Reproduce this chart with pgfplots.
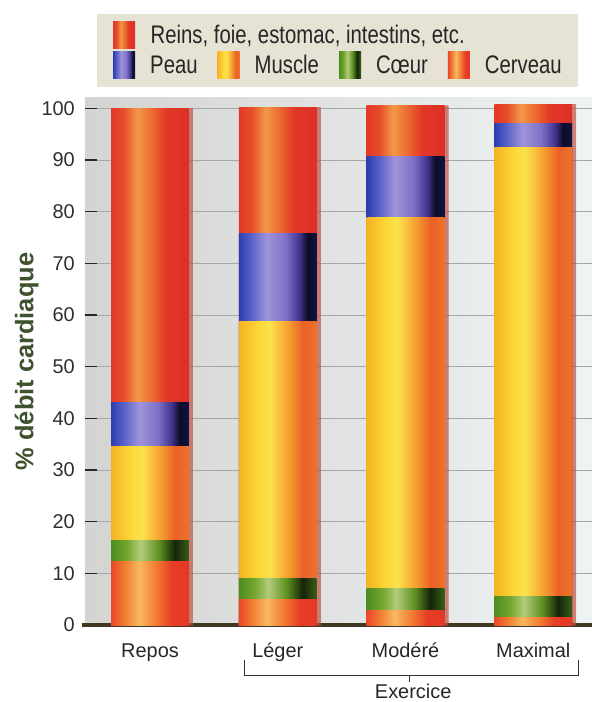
\documentclass[border=0pt]{standalone}
\usepackage{fontspec}
\setmainfont{Liberation Sans}
\newfontfamily\legfont[FakeStretch=0.8]{Liberation Sans}
\usepackage{pgfplots}
\pgfplotsset{compat=1.18}

\definecolor{bgL}{RGB}{212,212,210}
\definecolor{bgR}{RGB}{238,243,243}
\definecolor{legbg}{RGB}{230,226,212}
\definecolor{xline}{RGB}{65,55,35}
\definecolor{ylab}{RGB}{62,82,45}
\definecolor{ticktxt}{RGB}{45,50,40}

% cylinder-like horizontal shadings, one for each organ group
\pgfdeclarehorizontalshading{reinsS}{100bp}{rgb(0bp)=(0.89,0.22,0.16); rgb(25bp)=(0.89,0.22,0.16);
  rgb(33bp)=(0.90,0.30,0.16); rgb(42bp)=(0.95,0.60,0.28); rgb(52bp)=(0.92,0.40,0.18);
  rgb(60bp)=(0.89,0.22,0.16); rgb(75bp)=(0.86,0.19,0.14); rgb(100bp)=(0.86,0.19,0.14)}
\pgfdeclarehorizontalshading{peauS}{100bp}{rgb(0bp)=(0.17,0.24,0.70); rgb(25bp)=(0.17,0.24,0.70);
  rgb(33bp)=(0.35,0.38,0.78); rgb(43bp)=(0.62,0.58,0.86); rgb(55bp)=(0.50,0.44,0.78);
  rgb(64bp)=(0.25,0.20,0.55); rgb(69bp)=(0.05,0.05,0.16); rgb(75bp)=(0.05,0.08,0.25); rgb(100bp)=(0.05,0.08,0.25)}
\pgfdeclarehorizontalshading{muscleS}{100bp}{rgb(0bp)=(0.96,0.70,0.14); rgb(25bp)=(0.96,0.70,0.14);
  rgb(38bp)=(0.99,0.85,0.22); rgb(45bp)=(0.99,0.88,0.30); rgb(57bp)=(0.96,0.62,0.18);
  rgb(66bp)=(0.92,0.38,0.16); rgb(75bp)=(0.93,0.45,0.16); rgb(100bp)=(0.93,0.45,0.16)}
\pgfdeclarehorizontalshading{coeurS}{100bp}{rgb(0bp)=(0.30,0.55,0.12); rgb(25bp)=(0.30,0.55,0.12);
  rgb(35bp)=(0.45,0.65,0.18); rgb(44bp)=(0.70,0.80,0.48); rgb(56bp)=(0.36,0.56,0.12);
  rgb(66bp)=(0.08,0.14,0.04); rgb(75bp)=(0.22,0.38,0.08); rgb(100bp)=(0.22,0.38,0.08)}
\pgfdeclarehorizontalshading{cerveauS}{100bp}{rgb(0bp)=(0.92,0.28,0.16); rgb(25bp)=(0.92,0.28,0.16);
  rgb(34bp)=(0.95,0.50,0.20); rgb(43bp)=(0.98,0.72,0.38); rgb(54bp)=(0.95,0.48,0.20);
  rgb(64bp)=(0.90,0.24,0.15); rgb(75bp)=(0.89,0.22,0.15); rgb(100bp)=(0.89,0.22,0.15)}

\pgfplotsset{
  swatch/.style={/pgfplots/legend image code/.code={\path[##1] (0bp,-13.5bp) rectangle (22bp,13.5bp);}},
  ybar legend/.style={swatch},
  seg/.style={draw=none, forget plot, shade},
  reins/.style={seg, shading=reinsS,
    preaction={fill=black!45, opacity=0.45, transform canvas={xshift=4bp}}},
  peau/.style={seg, shading=peauS},
  muscle/.style={seg, shading=muscleS},
  coeur/.style={seg, shading=coeurS},
  cerveau/.style={seg, shading=cerveauS},
}

\begin{document}
\begin{tikzpicture}
\begin{axis}[
  scale only axis,
  width=507bp, height=527bp,
  xmin=-0.509, xmax=3.46,
  ymin=0, ymax=102,
  ybar, bar shift=0pt,
  bar width=0.61,
  xtick={0,1,2,3},
  xticklabels={Repos,Léger,Modéré,Maximal},
  ytick={0,10,...,100},
  ymajorgrids,
  grid style={draw=black!35, line width=0.7bp},
  axis x line*=bottom,
  axis y line*=left,
  x axis line style={line width=4.5bp, draw=xline, -, shorten <=-3bp},
  y axis line style={draw=none},
  xtick style={draw=none},
  ytick style={draw=black!85, line width=1.6bp},
  tick align=inside,
  major tick length=12bp,
  tick label style={font=\fontsize{20}{24}\selectfont, text=ticktxt},
  /pgf/number format/assume math mode=true,
  yticklabel style={inner sep=0pt, xshift=-10bp},
  xticklabel style={anchor=north, text height=15bp, text depth=4bp, inner sep=0pt, yshift=-17bp, text=black!85},
  axis background/.style={left color=bgL, right color=bgR},
  ylabel={\% débit cardiaque},
  ylabel style={font=\fontsize{25.5}{30}\selectfont\bfseries, text=ylab,
    at={(axis description cs:-0.115,0.5)}, anchor=center},
  clip=false,
  legend columns=4,
  legend cell align=left,
  legend style={at={(rel axis cs:0,1)}, anchor=south west, xshift=12bp, yshift=11bp,
    fill=legbg, draw=none, inner xsep=16bp, inner ysep=8bp,
    font=\legfont\fontsize{25.5}{30}\selectfont, text=black!85,
    nodes={inner sep=0pt},
    row sep=3bp,
    /tikz/every odd column/.style={column sep=15bp},
    /tikz/every even column/.style={column sep=20bp}},
]
\coordinate (bl) at (rel axis cs:0,0);

% each bar is drawn from the top of the stack down (cumulative % values)
% Repos
\addplot[reins]   coordinates {(0,100.0)};
\addplot[peau]    coordinates {(0,43.1)};
\addplot[muscle]  coordinates {(0,34.5)};
\addplot[coeur]   coordinates {(0,16.3)};
\addplot[cerveau] coordinates {(0,12.2)};
% Leger
\addplot[reins]   coordinates {(1,100.2)};
\addplot[peau]    coordinates {(1,75.7)};
\addplot[muscle]  coordinates {(1,58.8)};
\addplot[coeur]   coordinates {(1,9.0)};
\addplot[cerveau] coordinates {(1,5.0)};
% Modere
\addplot[reins]   coordinates {(2,100.5)};
\addplot[peau]    coordinates {(2,90.6)};
\addplot[muscle]  coordinates {(2,78.8)};
\addplot[coeur]   coordinates {(2,7.0)};
\addplot[cerveau] coordinates {(2,2.9)};
% Maximal
\addplot[reins]   coordinates {(3,100.8)};
\addplot[peau]    coordinates {(3,97.0)};
\addplot[muscle]  coordinates {(3,92.5)};
\addplot[coeur]   coordinates {(3,5.5)};
\addplot[cerveau] coordinates {(3,1.5)};

\addlegendimage{swatch, draw=none, shade, shading=reinsS}
\addlegendentry{\rlap{Reins, foie, estomac, intestins, etc.}}
\addlegendimage{swatch, draw=none, fill=none}\addlegendentry{}
\addlegendimage{swatch, draw=none, fill=none}\addlegendentry{}
\addlegendimage{swatch, draw=none, fill=none}\addlegendentry{}
\addlegendimage{swatch, draw=none, shade, shading=peauS}
\addlegendentry{Peau}
\addlegendimage{swatch, draw=none, shade, shading=muscleS}
\addlegendentry{Muscle}
\addlegendimage{swatch, draw=none, shade, shading=coeurS}
\addlegendentry{Cœur}
\addlegendimage{swatch, draw=none, shade, shading=cerveauS}
\addlegendentry{Cerveau}

% bracket under the exercise levels
\draw[line width=0.9bp, black!80] (axis cs:0.74,-6.8) -- (axis cs:0.74,-9.7)
  -- (axis cs:3.35,-9.7) -- (axis cs:3.35,-6.8);
\draw[line width=0.9bp, black!80] (axis cs:2.03,-9.7) -- (axis cs:2.03,-11.0);
\node[font=\fontsize{20}{24}\selectfont, text=black!85] at (axis cs:2.06,-12.8) {Exercice};
\end{axis}
\pgfresetboundingbox
\path (bl) ++(-85bp,-77bp) rectangle ++(592bp,702bp);
\end{tikzpicture}
\end{document}
